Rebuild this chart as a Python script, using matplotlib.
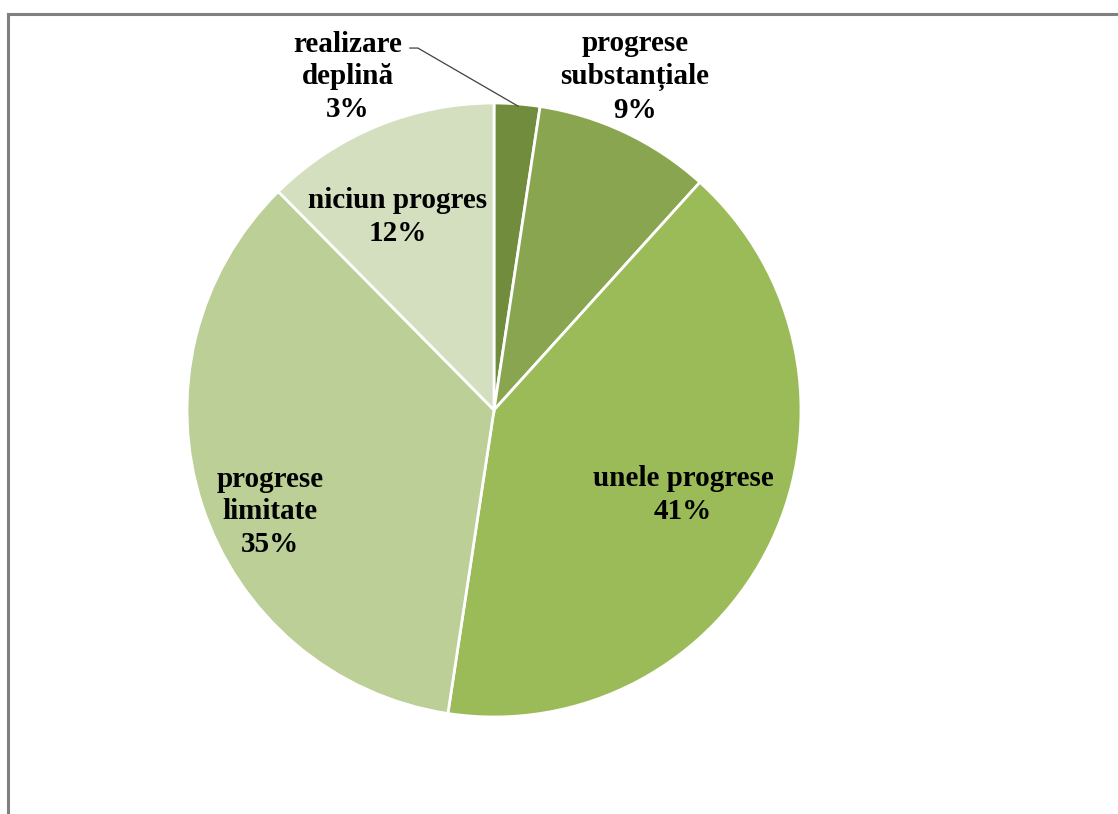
import numpy as np
import matplotlib
matplotlib.use('Agg')
import matplotlib.pyplot as plt
from matplotlib.lines import Line2D

# slice shares (clockwise from 12 o'clock)
categories = ['realizare\ndeplină', 'progrese\nsubstanțiale', 'unele progrese',
              'progrese\nlimitate', 'niciun progres']
values = [2.4, 9.3, 40.7, 35.2, 12.4]
pct_labels = ['3%', '9%', '41%', '35%', '12%']
colors = ['#728c3e', '#8aa54f', '#9bbb59', '#bbcf97', '#d3dfbf']

# label centres in data units (pie radius = 1)
label_pos = [(-0.476, 1.085), (0.459, 1.085), (0.616, -0.277), (-0.73, -0.332), (-0.313, 0.629)]

W, H = 1118, 814
fig = plt.figure(figsize=(W/100, H/100), dpi=100)
fig.patch.set_facecolor('white')

cx, cy, r = 494, 410, 307
ax = fig.add_axes([(cx-r)/W, (H-cy-r)/H, 2*r/W, 2*r/H])
ax.pie(values, colors=colors, startangle=90, counterclock=False, radius=1,
       wedgeprops=dict(edgecolor='white', linewidth=2))
ax.set_xlim(-1, 1)
ax.set_ylim(-1, 1)
ax.set_aspect('equal')
ax.axis('off')

for (x, y), cat, p in zip(label_pos, categories, pct_labels):
    ax.text(x, y, cat + '\n' + p, ha='center', va='center', family='Liberation Serif',
            fontweight='bold', fontsize=21, linespacing=1.27, color='black', clip_on=False)

# leader line for the small slice
ax.add_line(Line2D([-0.274, -0.248, 0.078], [1.179, 1.179, 0.99], color='#404040', lw=0.9,
                   clip_on=False))

# chart frame (top and left edges)
fig.add_artist(Line2D([8/W, 1], [1-14/H, 1-14/H], color='#808080', lw=2.2))
fig.add_artist(Line2D([8/W, 8/W], [0, 1-14/H], color='#808080', lw=2.2))

fig.savefig('out.png', dpi=100)
